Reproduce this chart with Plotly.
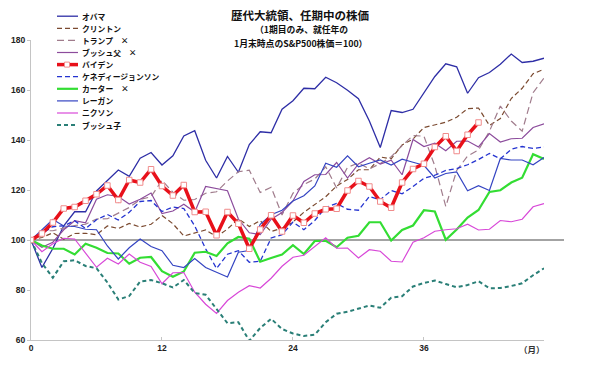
import plotly.graph_objects as go

# ---------------- data (S&P500, January-end of inauguration year = 100) ----------------
names = ["オバマ", "クリントン", "トランプ　×", "ブッシュ父　×", "バイデン",
         "ケネディージョンソン", "カーター　×", "レーガン", "ニクソン", "ブッシュ子"]

obama = [100, 89.0, 96.6, 105.7, 111.3, 111.3, 119.6, 123.6, 128.0, 125.5, 132.7, 135.0,
         130.0, 133.7, 141.6, 143.7, 131.9, 124.8, 133.4, 127.1, 138.2, 143.3, 142.9, 152.3,
         155.7, 160.7, 160.5, 165.1, 162.9, 159.9, 156.5, 147.6, 137.0, 151.8, 151.0, 152.3,
         158.9, 165.4, 170.5, 169.3, 158.7, 164.9, 167.0, 170.3, 174.4, 171.0, 171.5, 172.7]
clinton = [100, 101.0, 102.9, 100.3, 102.6, 102.7, 102.1, 105.6, 104.6, 106.6, 105.2, 106.3,
           109.8, 106.5, 101.6, 102.8, 104.0, 101.3, 104.4, 108.4, 105.4, 107.7, 103.4, 104.7,
           107.2, 111.1, 114.1, 117.3, 121.6, 124.2, 128.1, 128.1, 133.2, 132.5, 138.0, 140.4,
           145.0, 146.0, 147.1, 149.1, 152.5, 152.8, 145.8, 148.6, 156.6, 160.7, 166.5, 168.3]
trump = [100, 103.7, 103.7, 104.6, 105.8, 106.3, 108.4, 108.5, 110.6, 113.0, 116.2, 117.3,
         123.9, 119.1, 115.9, 116.2, 118.7, 119.3, 123.6, 127.3, 127.9, 119.0, 121.1, 110.0,
         118.7, 122.2, 124.4, 129.3, 120.8, 129.1, 130.8, 128.4, 130.6, 133.3, 137.8, 141.8,
         141.5, 129.6, 113.4, 127.8, 133.6, 136.0, 143.5, 153.6, 147.6, 143.5, 158.9, 164.8]
bush_sr = [100, 97.1, 99.1, 104.1, 107.7, 106.9, 116.3, 118.1, 117.4, 114.4, 116.3, 118.8,
           110.6, 111.6, 114.3, 111.2, 121.4, 120.4, 119.7, 108.4, 102.9, 102.2, 108.3, 111.0,
           115.6, 123.4, 126.1, 126.2, 131.0, 124.8, 130.4, 132.9, 130.4, 131.9, 126.1, 140.2,
           137.4, 138.7, 135.7, 139.5, 139.6, 137.2, 142.6, 139.2, 140.5, 140.7, 145.0, 146.5]
biden = [100, 102.6, 107.0, 112.6, 113.2, 115.7, 118.3, 121.8, 116.0, 124.0, 123.0, 128.3,
         121.6, 117.8, 122.0, 111.2, 111.3, 101.9, 111.2, 106.5, 96.5, 104.2, 109.9, 103.4,
         109.8, 106.9, 110.6, 112.3, 112.5, 119.8, 123.6, 121.4, 115.4, 112.9, 123.0, 128.4,
         130.5, 137.2, 141.5, 135.6, 142.1, 147.0]
kennedy_johnson = [100, 102.7, 105.3, 105.7, 107.7, 104.6, 108.1, 110.2, 108.0, 111.1, 115.4, 115.8,
                   111.4, 113.2, 112.6, 105.6, 96.5, 88.6, 94.3, 95.7, 91.1, 91.5, 100.8, 102.1,
                   107.2, 104.1, 107.8, 113.0, 114.6, 112.3, 111.9, 117.4, 116.1, 119.8, 118.5, 121.4,
                   124.7, 125.9, 127.8, 128.6, 130.1, 132.2, 134.6, 132.5, 136.3, 137.4, 136.6, 137.2]
carter = [100, 97.8, 96.5, 96.5, 94.2, 98.5, 96.9, 94.8, 94.6, 90.5, 92.9, 93.2,
          87.5, 85.3, 87.4, 94.9, 95.3, 93.6, 98.7, 101.2, 100.5, 91.3, 92.8, 94.2,
          97.9, 94.4, 99.6, 99.7, 97.1, 100.9, 101.7, 107.1, 107.1, 99.8, 104.0, 105.8,
          111.9, 111.4, 100.1, 104.2, 109.0, 112.0, 119.2, 119.9, 123.0, 124.9, 134.3, 132.4]
reagan = [100, 104.3, 108.2, 105.6, 105.4, 104.3, 104.1, 97.6, 92.4, 96.9, 100.4, 97.4,
          95.7, 89.9, 89.0, 92.6, 89.0, 87.1, 85.2, 95.1, 95.8, 106.3, 110.1, 111.9,
          115.6, 117.7, 121.6, 130.7, 129.1, 133.7, 129.3, 130.7, 132.0, 130.0, 132.3, 131.1,
          129.9, 124.8, 126.6, 127.2, 119.7, 121.7, 119.8, 132.6, 132.0, 132.0, 130.1, 133.0]
nixon = [100, 95.3, 98.5, 100.7, 100.4, 94.9, 89.1, 92.7, 90.4, 94.4, 91.1, 89.4,
         82.5, 86.9, 87.0, 79.1, 74.3, 70.6, 75.8, 79.1, 81.7, 80.8, 84.7, 89.5,
         93.1, 93.9, 97.4, 100.9, 96.7, 96.8, 92.8, 96.1, 95.5, 91.5, 91.2, 99.1,
         100.9, 103.5, 104.1, 104.5, 106.3, 104.0, 104.3, 107.8, 107.3, 108.3, 113.3, 114.6]
bush_jr = [100, 90.8, 84.9, 91.5, 91.9, 89.6, 88.7, 83.0, 76.2, 77.6, 83.4, 84.0,
           82.7, 81.0, 84.0, 78.8, 78.1, 72.5, 66.7, 67.1, 59.7, 64.8, 68.5, 64.4,
           62.6, 61.6, 62.1, 67.1, 70.5, 71.3, 72.5, 73.8, 72.9, 76.9, 77.5, 81.4,
           82.8, 83.8, 82.4, 81.1, 82.0, 83.5, 80.7, 80.8, 81.6, 82.7, 85.9, 88.7]

x_ticks = [0, 12, 24, 36]
y_ticks = [60, 80, 100, 120, 140, 160, 180]

series = [obama, clinton, trump, bush_sr, biden, kennedy_johnson, carter, reagan, nixon, bush_jr]

# ---------------- styles ----------------
styles = [
    dict(color="#2E2EA6", width=1.3, dash="solid"),
    dict(color="#7B4A30", width=1.2, dash="5px,3px"),
    dict(color="#A07C8C", width=1.2, dash="7px,4px"),
    dict(color="#8C4C9C", width=1.2, dash="solid"),
    dict(color="#E8101A", width=3.5, dash="solid"),
    dict(color="#2433D0", width=1.3, dash="5px,3px"),
    dict(color="#33DD33", width=2.2, dash="solid"),
    dict(color="#3444C2", width=1.2, dash="solid"),
    dict(color="#D848D8", width=1.2, dash="solid"),
    dict(color="#2A7F77", width=2.0, dash="4px,3px"),
]

fig = go.Figure()
order = [0, 1, 2, 3, 5, 6, 7, 8, 9, 4]
for i in order:
    ys = series[i]
    st = styles[i]
    tr = dict(x=list(range(len(ys))), y=ys, name=names[i], mode="lines",
              line=dict(color=st["color"], width=st["width"], dash=st["dash"]),
              showlegend=False, hoverinfo="skip")
    if i == 4:
        tr["mode"] = "lines+markers"
        tr["marker"] = dict(symbol="square", size=5.5, color="#FFFFFF",
                            line=dict(color="#F08C8C", width=1))
    fig.add_trace(go.Scatter(**tr))

# ---------------- layout geometry (pixels) ----------------
W, H = 600, 366
L, R, T, B = 31, 56, 40, 26
PW, PH = W - L - R, H - T - B

def px(x):
    return (x - L) / PW

def py(y):
    return (H - B - y) / PH

shapes = []
annotations = []

# reference line at 100
shapes.append(dict(type="line", xref="paper", yref="y", x0=0, x1=px(564), y0=100, y1=100,
                   line=dict(color="#858585", width=1.3), layer="below"))

# custom legend
jp = "Noto Sans CJK JP"
for k in range(len(names)):
    st = styles[k]
    yc = 16.2 + 12.1 * k
    shapes.append(dict(type="line", xref="paper", yref="paper", x0=px(57), x1=px(78),
                       y0=py(yc), y1=py(yc),
                       line=dict(color=st["color"], width=st["width"], dash=st["dash"])))
    if k == 4:
        shapes.append(dict(type="rect", xref="paper", yref="paper",
                           x0=px(64.5), x1=px(69.5), y0=py(yc + 2.5), y1=py(yc - 2.5),
                           fillcolor="#FFFFFF", line=dict(color="#F08C8C", width=1)))
    annotations.append(dict(text=names[k], xref="paper", yref="paper", x=px(80), y=py(yc),
                            xanchor="left", yanchor="middle", showarrow=False,
                            font=dict(family=jp, size=7.8, color="#111111", weight="bold")))

# titles
annotations.append(dict(text="歴代大統領、任期中の株価", xref="paper", yref="paper",
                        x=px(300), y=py(15), xanchor="center", yanchor="middle", showarrow=False,
                        font=dict(family=jp, size=11.5, color="#111111", weight="bold")))
annotations.append(dict(text="（1期目のみ、就任年の", xref="paper", yref="paper",
                        x=px(301), y=py(29), xanchor="center", yanchor="middle", showarrow=False,
                        font=dict(family=jp, size=8.8, color="#111111", weight="bold")))
annotations.append(dict(text="1月末時点のS&P500株価＝100）", xref="paper", yref="paper",
                        x=px(300), y=py(43), xanchor="center", yanchor="middle", showarrow=False,
                        font=dict(family=jp, size=8.8, color="#111111", weight="bold")))
annotations.append(dict(text="（月）", xref="paper", yref="paper",
                        x=px(532), y=py(349), xanchor="center", yanchor="middle", showarrow=False,
                        font=dict(family=jp, size=8.5, color="#333333", weight="bold")))

tickfont = dict(family="Liberation Sans", size=8.5, color="#222222", weight="bold")
fig.update_layout(
    width=W, height=H,
    margin=dict(l=L, r=R, t=T, b=B, autoexpand=False),
    paper_bgcolor="white", plot_bgcolor="white",
    showlegend=False,
    shapes=shapes, annotations=annotations,
    font=dict(family="Liberation Sans, Arial", size=8, color="#333333"),
    xaxis=dict(range=[0, 47], tickvals=x_ticks, ticktext=[str(v) for v in x_ticks],
               showgrid=False, zeroline=False, showline=True, linecolor="#C4C4C4", linewidth=1,
               ticks="inside", ticklen=3, tickcolor="#C4C4C4", tickfont=tickfont),
    yaxis=dict(range=[60, 180], tickvals=y_ticks, showgrid=False, zeroline=False,
               showline=True, linecolor="#C4C4C4", linewidth=1,
               ticks="outside", ticklen=3, tickcolor="#C4C4C4", tickfont=tickfont),
)

fig.write_html("out.html", config={"displayModeBar": False},
               post_script="document.body.style.margin='0px';document.body.style.overflow='hidden';")
